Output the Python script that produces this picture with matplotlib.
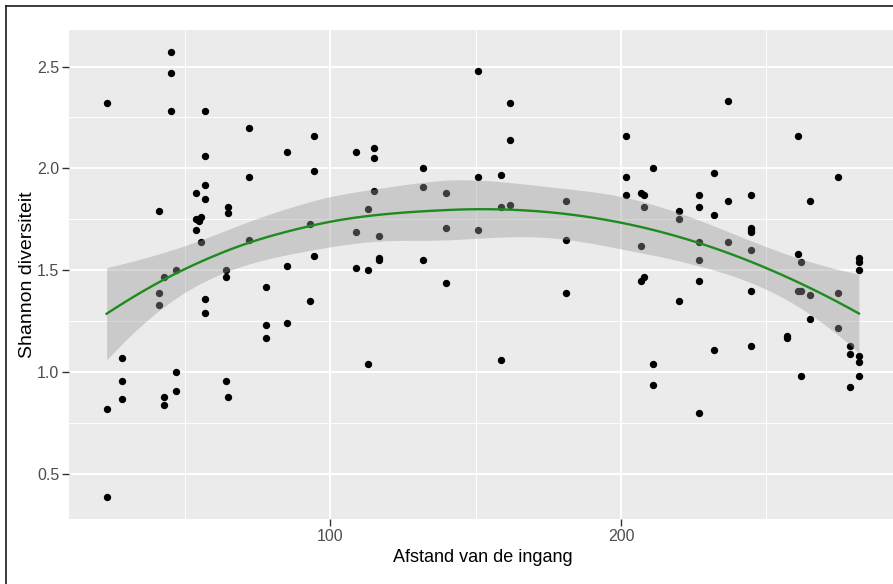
import numpy as np
import matplotlib
matplotlib.use('Agg')
import matplotlib.pyplot as plt
from matplotlib.lines import Line2D

plt.rcParams['font.family'] = ['Liberation Sans', 'DejaVu Sans']

# afstand van de ingang (x) en Shannon diversiteit (y)
afstand = [23.0, 23.0, 23.0, 28.2, 28.2, 28.2, 41.1, 41.1, 41.1, 42.8, 42.8, 42.8,
           45.1, 45.1, 45.1, 46.8, 46.8, 46.8, 53.9, 53.9, 53.9, 55.3, 55.3, 54.8,
           57.0, 57.0, 57.0, 57.0, 57.0, 57.0, 64.1, 64.1, 64.1, 64.8, 64.8, 64.8,
           72.0, 72.0, 72.0, 77.9, 77.9, 77.9, 84.9, 84.9, 84.9, 92.9, 92.9,
           94.2, 94.2, 94.2, 108.7, 108.7, 108.7, 112.8, 112.8, 112.8,
           115.0, 115.0, 115.0, 116.8, 116.8, 116.8, 131.8, 131.8, 131.8,
           139.8, 139.8, 139.8, 150.8, 150.8, 150.8, 158.7, 158.7, 158.7,
           161.8, 161.8, 161.8, 180.9, 180.9, 180.9, 201.7, 201.7, 201.7,
           207.0, 207.0, 207.0, 207.8, 207.8, 207.8, 211.0, 211.0, 211.0,
           219.8, 219.8, 219.8, 226.9, 226.9, 226.9, 226.9, 226.9, 226.9,
           231.8, 231.8, 231.8, 236.6, 236.6, 236.6,
           244.6, 244.6, 244.6, 244.6, 244.6, 244.6, 244.6, 257.0, 257.0,
           260.9, 260.9, 260.9, 261.9, 261.9, 261.9, 264.9, 264.9, 264.9,
           274.6, 274.6, 274.6, 278.7, 278.7, 278.7,
           281.8, 281.8, 281.8, 281.8, 281.8, 281.8]
shannon = [2.32, 0.82, 0.39, 1.07, 0.96, 0.87, 1.79, 1.39, 1.33, 1.47, 0.88, 0.84,
           2.57, 2.47, 2.28, 1.50, 1.00, 0.91, 1.88, 1.75, 1.70, 1.76, 1.64, 1.74,
           2.28, 2.06, 1.92, 1.85, 1.36, 1.29, 1.50, 1.47, 0.96, 1.81, 1.78, 0.88,
           2.20, 1.96, 1.65, 1.42, 1.23, 1.17, 2.08, 1.52, 1.24, 1.73, 1.35,
           2.16, 1.99, 1.57, 2.08, 1.69, 1.51, 1.80, 1.50, 1.04,
           2.10, 2.05, 1.89, 1.67, 1.56, 1.55, 2.00, 1.91, 1.55,
           1.88, 1.71, 1.44, 2.48, 1.96, 1.70, 1.97, 1.81, 1.06,
           2.32, 2.14, 1.82, 1.84, 1.65, 1.39, 2.16, 1.96, 1.87,
           1.88, 1.62, 1.45, 1.87, 1.81, 1.47, 2.00, 1.04, 0.94,
           1.79, 1.75, 1.35, 1.87, 1.81, 1.64, 1.55, 1.45, 0.80,
           1.98, 1.77, 1.11, 2.33, 1.84, 1.64,
           1.87, 1.71, 1.70, 1.69, 1.60, 1.40, 1.13, 1.18, 1.17,
           2.16, 1.58, 1.40, 1.54, 1.40, 0.98, 1.84, 1.38, 1.26,
           1.96, 1.39, 1.22, 1.13, 1.09, 0.93,
           1.56, 1.54, 1.50, 1.08, 1.05, 0.98]

x = np.array(afstand)
y = np.array(shannon)
n = len(x)
span = 0.75


# loess (span 0.75, graad 2) zoals geom_smooth standaard doet:
# lokale fit op de hoekpunten van een kd-boom, daartussen kubisch interpoleren
def lokale_fit(x0):
    d = np.abs(x - x0)
    q = int(np.floor(n * span))
    h = np.sort(d)[q - 1]
    w = np.clip(1 - (d / h) ** 3, 0, None) ** 3
    B = np.column_stack([np.ones(n), x - x0, (x - x0) ** 2])
    BW = B.T * w
    coef = np.linalg.solve(BW @ B, BW)
    return coef[0], coef[1]  # waarde- en helling-rij


xsort = np.sort(x)
fc = int(np.floor(n * span * 0.2))
marge = 0.005 * (xsort[-1] - xsort[0])
hoekpunten = [xsort[0] - marge, xsort[-1] + marge]


def splits(l, u, v_lo, v_hi):
    # l, u: indices (0-based, inclusief) in xsort
    if u - l + 1 <= fc:
        return
    m = (l + u) // 2
    off = 0
    while l <= m + off < u:
        if xsort[m + off] == xsort[m + off + 1]:
            off = -off
            if off >= 0:
                off += 1
        else:
            m = m + off
            break
    xi = xsort[m]
    if xi == v_lo or xi == v_hi:
        return
    hoekpunten.append(xi)
    splits(l, m, v_lo, xi)
    splits(m + 1, u, xi, v_hi)


splits(0, n - 1, hoekpunten[0], hoekpunten[1])
hoekpunten = np.sort(hoekpunten)
rijen = [lokale_fit(v) for v in hoekpunten]


def operator(x0):
    k = np.clip(np.searchsorted(hoekpunten, x0) - 1, 0, len(hoekpunten) - 2)
    a, b = hoekpunten[k], hoekpunten[k + 1]
    hh = b - a
    t = (x0 - a) / hh
    h00 = 2 * t ** 3 - 3 * t ** 2 + 1
    h10 = t ** 3 - 2 * t ** 2 + t
    h01 = -2 * t ** 3 + 3 * t ** 2
    h11 = t ** 3 - t ** 2
    la, sa = rijen[k]
    lb, sb = rijen[k + 1]
    return h00 * la + h10 * hh * sa + h01 * lb + h11 * hh * sb


L = np.array([operator(xi) for xi in x])
R = np.eye(n) - L
RR = R.T @ R
delta1 = np.trace(RR)
delta2 = np.trace(RR @ RR)
s = np.sqrt(np.sum((y - L @ y) ** 2) / delta1)
df = delta1 ** 2 / delta2
t_krit = 1.96 + 2.4 / df  # benadering t-kwantiel 0.975

xs = np.linspace(x.min(), x.max(), 80)
Ls = np.array([operator(v) for v in xs])
fit = Ls @ y
se = s * np.sqrt(np.sum(Ls ** 2, axis=1))
lo = fit - t_krit * se
hi = fit + t_krit * se

fig = plt.figure(figsize=(8.93, 5.84), dpi=100)
ax = fig.add_axes([69 / 893, 65 / 584, 827.5 / 893, 489 / 584])
ax.set_facecolor('#EBEBEB')

ax.scatter(x, y, s=28, color='black', linewidths=0, zorder=2)
ax.fill_between(xs, lo, hi, color='#999999', alpha=0.4, linewidth=0, zorder=3)
ax.plot(xs, fit, color='#1E8B1E', lw=1.7, zorder=4)

# ggplot-achtige assen (5% uitbreiding)
xr = x.max() - x.min()
yr = y.max() - y.min()
ax.set_xlim(x.min() - 0.05 * xr, x.max() + 0.05 * xr)
ax.set_ylim(y.min() - 0.05 * yr, y.max() + 0.05 * yr)
ax.set_xticks([100, 200])
ax.set_xticks([50, 150, 250], minor=True)
ax.set_yticks([0.5, 1.0, 1.5, 2.0, 2.5])
ax.set_yticklabels(['0.5', '1.0', '1.5', '2.0', '2.5'])
ax.set_yticks([0.75, 1.25, 1.75, 2.25], minor=True)
ax.grid(which='major', color='white', lw=1.4)
ax.grid(which='minor', color='white', lw=0.7)
ax.set_axisbelow(True)
for sp in ax.spines.values():
    sp.set_visible(False)
ax.tick_params(which='major', length=5, width=1, color='#333333', pad=2,
               labelsize=11.5, labelcolor='#4D4D4D')
ax.tick_params(which='minor', length=0)

ax.set_xlabel('Afstand van de ingang', fontsize=13)
ax.set_ylabel('Shannon diversiteit', fontsize=14)
ax.xaxis.set_label_coords(0.5, -0.061)
ax.yaxis.set_label_coords(-0.04, 0.5)

# kader van de screenshot (links en boven)
fig.add_artist(Line2D([6 / 893, 6 / 893], [0, 1 - 6 / 584], color='#1a1a1a', lw=1.2))
fig.add_artist(Line2D([6 / 893, 1], [1 - 6 / 584, 1 - 6 / 584], color='#1a1a1a', lw=1.2))

fig.savefig('out.png', dpi=100, facecolor='white')
